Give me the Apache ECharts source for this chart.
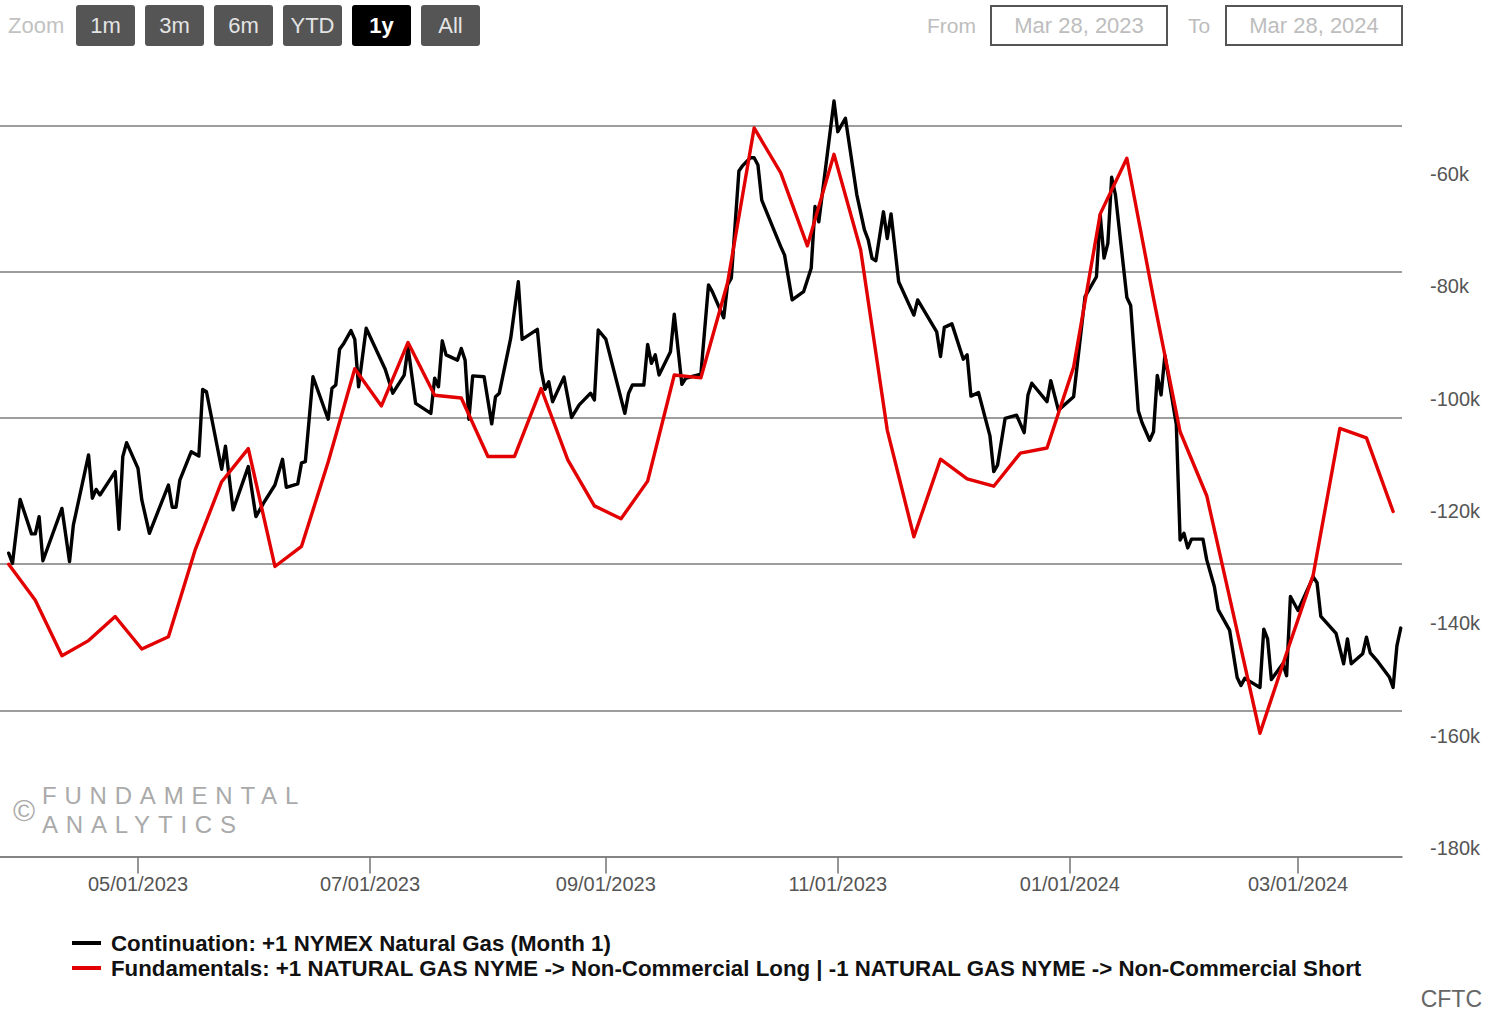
<!DOCTYPE html>
<html>
<head>
<meta charset="utf-8">
<script src="https://cdn.jsdelivr.net/npm/echarts@6/dist/echarts.min.js"></script>
<style>
html,body{margin:0;padding:0;background:#ffffff;}
#chart{width:1499px;height:1015px;}
</style>
</head>
<body>
<div id="chart"></div>
<script>
// ---------- texts ----------
const rangeButtons = ['1m', '3m', '6m', 'YTD', '1y', 'All'];
const selectedButton = '1y';
const fromLabel = 'From';
const toLabel = 'To';
const fromDate = 'Mar 28, 2023';
const toDate = 'Mar 28, 2024';
const creditText = 'CFTC';
const watermarkLines = ['FUNDAMENTAL', 'ANALYTICS'];
const contName = 'Continuation: +1 NYMEX Natural Gas (Month 1)';
const fundName = 'Fundamentals: +1 NATURAL GAS NYME -> Non-Commercial Long | -1 NATURAL GAS NYME -> Non-Commercial Short';

// ---------- axis ticks ----------
const xTickDates = ['2023-05-01', '2023-07-01', '2023-09-01', '2023-11-01', '2024-01-01', '2024-03-01'];
const rightTicks = [-180000, -160000, -140000, -120000, -100000, -80000, -60000];

// ---------- black series: NYMEX natural gas front month ($) ----------
const contDates = [
'2023-03-28','2023-03-29','2023-03-31','2023-04-03','2023-04-04','2023-04-05','2023-04-06','2023-04-11','2023-04-13','2023-04-14',
'2023-04-18','2023-04-19','2023-04-20','2023-04-21','2023-04-25','2023-04-26','2023-04-27','2023-04-28','2023-05-01','2023-05-02',
'2023-05-04','2023-05-09','2023-05-10','2023-05-11','2023-05-12','2023-05-15','2023-05-17','2023-05-18','2023-05-19','2023-05-23',
'2023-05-24','2023-05-26','2023-05-30','2023-06-01','2023-06-03','2023-06-06','2023-06-08','2023-06-09','2023-06-12','2023-06-13',
'2023-06-14','2023-06-16','2023-06-20','2023-06-21','2023-06-22','2023-06-23','2023-06-24','2023-06-26','2023-06-27','2023-06-28',
'2023-06-30','2023-07-05','2023-07-07','2023-07-10','2023-07-11','2023-07-13','2023-07-17','2023-07-18','2023-07-19','2023-07-20',
'2023-07-21','2023-07-24','2023-07-25','2023-07-26','2023-07-27','2023-07-28','2023-07-31','2023-08-02','2023-08-03','2023-08-04',
'2023-08-07','2023-08-09','2023-08-10','2023-08-14','2023-08-15','2023-08-16','2023-08-17','2023-08-18','2023-08-21','2023-08-23',
'2023-08-25','2023-08-28','2023-08-29','2023-08-30','2023-09-01','2023-09-06','2023-09-07','2023-09-08','2023-09-11','2023-09-12',
'2023-09-13','2023-09-14','2023-09-15','2023-09-18','2023-09-19','2023-09-21','2023-09-22','2023-09-26','2023-09-28','2023-09-29',
'2023-10-02','2023-10-03','2023-10-04','2023-10-06','2023-10-07','2023-10-09','2023-10-10','2023-10-11','2023-10-12','2023-10-15',
'2023-10-17','2023-10-18','2023-10-20','2023-10-23','2023-10-25','2023-10-26','2023-10-27','2023-10-31','2023-11-01','2023-11-03',
'2023-11-06','2023-11-08','2023-11-09','2023-11-10','2023-11-11','2023-11-13','2023-11-14','2023-11-15','2023-11-17','2023-11-21',
'2023-11-22','2023-11-27','2023-11-28','2023-11-29','2023-12-01','2023-12-04','2023-12-05','2023-12-06','2023-12-08','2023-12-11',
'2023-12-12','2023-12-13','2023-12-15','2023-12-18','2023-12-20','2023-12-21','2023-12-22','2023-12-26','2023-12-27','2023-12-29',
'2024-01-02','2024-01-05','2024-01-08','2024-01-09','2024-01-10','2024-01-11','2024-01-12','2024-01-13','2024-01-16','2024-01-17',
'2024-01-19','2024-01-20','2024-01-22','2024-01-23','2024-01-24','2024-01-25','2024-01-26','2024-01-29','2024-01-30','2024-01-31',
'2024-02-01','2024-02-02','2024-02-05','2024-02-06','2024-02-08','2024-02-09','2024-02-12','2024-02-14','2024-02-15','2024-02-16',
'2024-02-20','2024-02-21','2024-02-22','2024-02-23','2024-02-26','2024-02-27','2024-02-28','2024-03-01','2024-03-05','2024-03-06',
'2024-03-07','2024-03-11','2024-03-13','2024-03-14','2024-03-15','2024-03-18','2024-03-19','2024-03-20','2024-03-22','2024-03-25',
'2024-03-26','2024-03-27','2024-03-28'
];
const contValues = [
2.037,2.002,2.221,2.103,2.103,2.162,2.011,2.190,2.008,2.133,
2.373,2.225,2.255,2.236,2.316,2.119,2.367,2.415,2.327,2.219,
2.105,2.270,2.194,2.194,2.287,2.384,2.369,2.597,2.589,2.324,
2.403,2.185,2.333,2.162,2.208,2.270,2.358,2.262,2.274,2.346,
2.350,2.640,2.495,2.601,2.612,2.734,2.752,2.798,2.768,2.606,
2.806,2.666,2.584,2.646,2.741,2.549,2.515,2.635,2.606,2.763,
2.715,2.697,2.737,2.697,2.495,2.643,2.640,2.479,2.572,2.584,
2.772,2.965,2.768,2.802,2.663,2.597,2.623,2.555,2.639,2.501,
2.544,2.584,2.561,2.800,2.769,2.515,2.584,2.612,2.612,2.751,
2.686,2.715,2.646,2.726,2.854,2.614,2.635,2.649,2.954,2.931,
2.842,2.954,2.977,3.344,3.362,3.389,3.389,3.364,3.244,3.148,
3.085,3.056,2.903,2.931,3.011,3.222,3.170,3.583,3.478,3.524,
3.262,3.142,3.108,3.045,3.037,3.204,3.113,3.197,2.965,2.851,
2.903,2.794,2.709,2.809,2.821,2.700,2.715,2.574,2.586,2.438,
2.316,2.338,2.498,2.509,2.449,2.578,2.618,2.555,2.627,2.526,
2.572,2.914,2.982,3.193,3.046,3.096,3.322,3.262,2.911,2.884,
2.524,2.483,2.423,2.452,2.645,2.578,2.713,2.477,2.082,2.105,
2.055,2.085,2.085,2.014,1.923,1.844,1.774,1.612,1.585,1.609,
1.578,1.777,1.744,1.605,1.659,1.618,1.889,1.841,1.956,1.936,
1.821,1.763,1.659,1.744,1.659,1.693,1.750,1.696,1.666,1.614,
1.578,1.720,1.781
];

// ---------- red series: weekly CFTC net non-commercial position (contracts) ----------
const fundDates = [
'2023-03-28','2023-04-04','2023-04-11','2023-04-18','2023-04-25','2023-05-02','2023-05-09','2023-05-16','2023-05-23','2023-05-30',
'2023-06-06','2023-06-13','2023-06-20','2023-06-27','2023-07-04','2023-07-11','2023-07-18','2023-07-25','2023-08-01','2023-08-08',
'2023-08-15','2023-08-22','2023-08-29','2023-09-05','2023-09-12','2023-09-19','2023-09-26','2023-10-03','2023-10-10','2023-10-17',
'2023-10-24','2023-10-31','2023-11-07','2023-11-14','2023-11-21','2023-11-28','2023-12-05','2023-12-12','2023-12-19','2023-12-26',
'2024-01-02','2024-01-09','2024-01-16','2024-01-23','2024-01-30','2024-02-06','2024-02-13','2024-02-20','2024-02-27','2024-03-05',
'2024-03-12','2024-03-19','2024-03-26'
];
const fundValues = [
-129500,-135900,-145800,-143100,-138800,-144600,-142400,-127000,-114800,-108900,
-129900,-126300,-111300,-94700,-101300,-90000,-99400,-99900,-110300,-110300,
-98200,-110900,-119100,-121400,-114700,-95800,-96300,-79400,-51800,-59800,
-72800,-56500,-73500,-105600,-124600,-110800,-114300,-115600,-109700,-108800,
-94400,-67100,-57200,-82100,-105900,-117300,-138400,-159600,-145300,-131400,
-105300,-107000,-120100
];

// ---------- build ----------
const toTime = s => Date.parse(s + 'T00:00:00Z');
const pad = n => (n < 10 ? '0' : '') + n;
const fmtDate = v => { const d = new Date(v); return pad(d.getUTCMonth() + 1) + '/' + pad(d.getUTCDate()) + '/' + d.getUTCFullYear(); };
const FONT = '"Liberation Sans", Arial, Helvetica, sans-serif';

const contData = contDates.map((d, i) => [toTime(d), contValues[i]]);
const fundData = fundDates.map((d, i) => [toTime(d), fundValues[i]]);
const xTicks = xTickDates.map(toTime);

function txt(x, y, text, font, fill, align) {
  return { type: 'text', silent: true, x: x, y: y,
    style: { text: text, font: font, fill: fill, align: align, verticalAlign: 'middle', textAlign: align, textVerticalAlign: 'middle' } };
}

const graphics = [];
graphics.push(txt(8, 25.5, 'Zoom', '22px ' + FONT, '#c2c2c2', 'left'));
rangeButtons.forEach((b, i) => {
  const sel = b === selectedButton;
  const bx = 76 + i * 69;
  graphics.push({ type: 'rect', silent: true, shape: { x: bx, y: 5, width: 59, height: 41, r: 3 }, style: { fill: sel ? '#000000' : '#555555' } });
  graphics.push(txt(bx + 29.5, 25.5, b, (sel ? 'bold ' : '') + '22px ' + FONT, sel ? '#ffffff' : '#e4e4e4', 'center'));
});
graphics.push(txt(927, 25.5, fromLabel, '21px ' + FONT, '#bdbdbd', 'left'));
graphics.push({ type: 'rect', silent: true, shape: { x: 991, y: 6, width: 176, height: 39 }, style: { fill: '#ffffff', stroke: '#555555', lineWidth: 2 } });
graphics.push(txt(1079, 25.5, fromDate, '22px ' + FONT, '#bdbdbd', 'center'));
graphics.push(txt(1188, 25.5, toLabel, '21px ' + FONT, '#bdbdbd', 'left'));
graphics.push({ type: 'rect', silent: true, shape: { x: 1226, y: 6, width: 176, height: 39 }, style: { fill: '#ffffff', stroke: '#555555', lineWidth: 2 } });
graphics.push(txt(1314, 25.5, toDate, '22px ' + FONT, '#bdbdbd', 'center'));
// watermark
graphics.push(txt(13, 810, '\u00A9', '30px ' + FONT, '#aaaaaa', 'left'));
graphics.push(txt(42, 795.5, watermarkLines[0], '24px ' + FONT, '#aaaaaa', 'left'));
graphics.push(txt(42, 824, watermarkLines[1], '24px ' + FONT, '#aaaaaa', 'left'));
// credit
graphics.push(txt(1482, 999, creditText, '23px ' + FONT, '#666666', 'right'));

const GRID_TOP = 85, GRID_BOTTOM_Y = 856.5;

const option = {
  animation: false,
  backgroundColor: '#ffffff',
  textStyle: { fontFamily: FONT },
  grid: { left: 0, right: 97, top: GRID_TOP, bottom: 1015 - GRID_BOTTOM_Y, containLabel: false, outerBoundsMode: 'none' },
  legend: {
    orient: 'vertical', left: 72, top: 932, padding: 0, itemWidth: 29, itemHeight: 4, itemGap: 3,
    icon: 'rect', selectedMode: false,
    textStyle: { fontFamily: FONT, fontWeight: 'bold', fontSize: 22.3, color: '#111111', lineHeight: 22, padding: [0, 0, 0, 5] },
    data: [contName, fundName]
  },
  xAxis: {
    type: 'value',
    min: Date.UTC(2023, 2, 25, 17, 11),
    max: Date.UTC(2024, 2, 28, 8, 10),
    axisLine: { show: true, lineStyle: { color: '#7c7c7c', width: 1.6 } },
    axisTick: { show: true, customValues: xTicks, length: 17, lineStyle: { color: '#7c7c7c', width: 1.6 } },
    axisLabel: { customValues: xTicks, formatter: fmtDate, fontSize: 20, color: '#555555', margin: 17, fontFamily: FONT },
    splitLine: { show: false }
  },
  yAxis: [
    {
      type: 'value', position: 'left', min: 1.0, max: 1.0 + (GRID_BOTTOM_Y - GRID_TOP) / 292.5, interval: 0.5,
      axisLine: { show: false }, axisTick: { show: false }, axisLabel: { show: false },
      splitLine: { show: true, showMaxLine: false, lineStyle: { color: '#7c7c7c', width: 1.6 } }
    },
    {
      type: 'value', position: 'right',
      min: -60000 - (GRID_BOTTOM_Y - 174) / 5.615 * 1000,
      max: -60000 + (174 - GRID_TOP) / 5.615 * 1000,
      axisLine: { show: false }, axisTick: { show: false },
      splitLine: { show: false },
      axisLabel: {
        customValues: rightTicks, align: 'left', margin: 28, fontSize: 20, color: '#555555', fontFamily: FONT,
        formatter: v => (v / 1000) + 'k'
      }
    }
  ],
  series: [
    {
      name: contName, type: 'line', yAxisIndex: 0, data: contData, symbol: 'none', showSymbol: false,
      lineStyle: { color: '#000000', width: 3.4, join: 'round', cap: 'round' }, itemStyle: { color: '#000000' }, z: 2
    },
    {
      name: fundName, type: 'line', yAxisIndex: 1, data: fundData, symbol: 'none', showSymbol: false,
      lineStyle: { color: '#e20000', width: 3.4, join: 'round', cap: 'round' }, itemStyle: { color: '#e20000' }, z: 3
    }
  ],
  graphic: { elements: graphics }
};

const chart = echarts.init(document.getElementById('chart'), null, { renderer: 'svg', width: 1499, height: 1015 });
chart.setOption(option);

function spaceWatermark() {
  document.querySelectorAll('#chart svg text').forEach(t => {
    if (watermarkLines.indexOf(t.textContent) >= 0) t.setAttribute('letter-spacing', '7.8');
  });
}
spaceWatermark();
chart.on('finished', spaceWatermark);
</script>
</body>
</html>
